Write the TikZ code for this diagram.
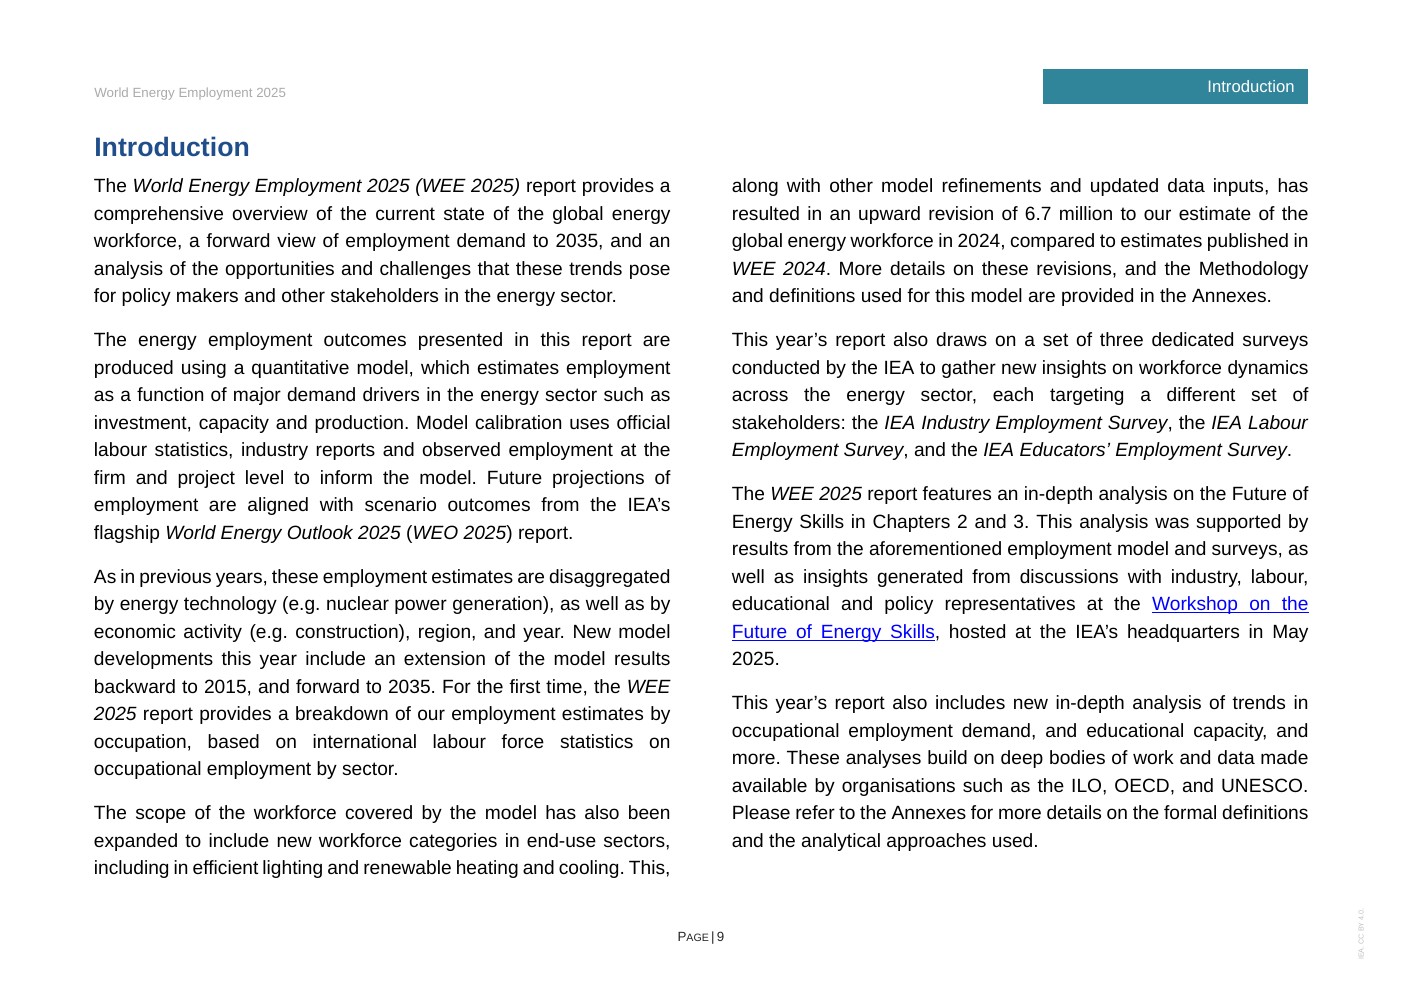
\documentclass[tikz,border=0pt]{standalone}
\usepackage{fontspec}
\setmainfont{Liberation Sans}
\frenchspacing
\definecolor{banner}{RGB}{49,133,155}
\definecolor{titleblue}{RGB}{31,78,138}
\definecolor{headgrey}{RGB}{170,170,170}
\definecolor{linkblue}{RGB}{0,0,255}
\newcounter{lnum}
\newcommand\JL[3]{\stepcounter{lnum}\node[lin] (ln\arabic{lnum}) at (#1pt,-#2pt) {\makebox[346pt][s]{#3}};}
\newcommand\LL[3]{\stepcounter{lnum}\node[lin] (ln\arabic{lnum}) at (#1pt,-#2pt) {#3};}
\newcommand\ulw[1]{\setbox0\hbox{#1}\rlap{\vrule height -0.9pt depth 1.5pt width \wd0}\box0}
\newcommand\uls{\leaders\vrule height -0.9pt depth 1.5pt\hskip\fontdimen2\font plus \fontdimen3\font minus \fontdimen4\font}
\begin{document}
\begin{tikzpicture}[
  lin/.style={anchor=base west, inner sep=0pt, outer sep=0pt, font=\fontsize{11.5}{16.5}\selectfont\frenchspacing},
]
\useasboundingbox (0,0) rectangle (841.89pt,-595.28pt);
\fill[white] (0,0) rectangle (841.89pt,-595.28pt);
% header
\node[anchor=base west, inner sep=0pt, text=headgrey, font=\fontsize{8}{10}\selectfont] (head) at (56.4pt,-58.8pt) {World Energy Employment 2025};
\node[fill=banner, anchor=north west, minimum width=159pt, minimum height=21pt, inner sep=0pt] (bannerbox) at (625.9pt,-41.4pt) {};
\node[anchor=base east, inner sep=0pt, text=white, font=\fontsize{10}{12}\selectfont] (bannertext) at (777pt,-55.6pt) {Introduction};
% title
\node[anchor=base west, inner sep=0pt, text=titleblue, font=\fontsize{16}{19}\selectfont\bfseries] (title) at (56.4pt,-94.2pt) {Introduction};
% column 1
\JL{56.4}{115.8}{The \textit{World Energy Employment 2025 (WEE 2025)} report provides a}
\JL{56.4}{132.3}{comprehensive overview of the current state of the global energy}
\JL{56.4}{148.8}{workforce, a forward view of employment demand to 2035, and an}
\JL{56.4}{165.3}{analysis of the opportunities and challenges that these trends pose}
\LL{56.4}{181.8}{for policy makers and other stakeholders in the energy sector.}
\JL{56.4}{208.2}{The energy employment outcomes presented in this report are}
\JL{56.4}{224.7}{produced using a quantitative model, which estimates employment}
\JL{56.4}{241.2}{as a function of major demand drivers in the energy sector such as}
\JL{56.4}{257.7}{investment, capacity and production. Model calibration uses official}
\JL{56.4}{274.2}{labour statistics, industry reports and observed employment at the}
\JL{56.4}{290.7}{firm and project level to inform the model. Future projections of}
\JL{56.4}{307.2}{employment are aligned with scenario outcomes from the IEA’s}
\LL{56.4}{323.7}{flagship \textit{World Energy Outlook 2025} (\textit{WEO 2025}) report.}
\JL{56.4}{350.1}{As in previous years, these employment estimates are disaggregated}
\JL{56.4}{366.6}{by energy technology (e.g. nuclear power generation), as well as by}
\JL{56.4}{383.1}{economic activity (e.g. construction), region, and year. New model}
\JL{56.4}{399.6}{developments this year include an extension of the model results}
\JL{56.4}{416.1}{backward to 2015, and forward to 2035. For the first time, the \textit{WEE}}
\JL{56.4}{432.6}{\textit{2025} report provides a breakdown of our employment estimates by}
\JL{56.4}{449.1}{occupation, based on international labour force statistics on}
\LL{56.4}{465.6}{occupational employment by sector.}
\JL{56.4}{492.0}{The scope of the workforce covered by the model has also been}
\JL{56.4}{508.5}{expanded to include new workforce categories in end-use sectors,}
\JL{56.4}{525.0}{including in efficient lighting and renewable heating and cooling. This,}
% column 2
\JL{439.2}{115.8}{along with other model refinements and updated data inputs, has}
\JL{439.2}{132.3}{resulted in an upward revision of 6.7 million to our estimate of the}
\JL{439.2}{148.8}{global energy workforce in 2024, compared to estimates published in}
\JL{439.2}{165.3}{\textit{WEE 2024}. More details on these revisions, and the Methodology}
\LL{439.2}{181.8}{and definitions used for this model are provided in the Annexes.}
\JL{439.2}{208.2}{This year’s report also draws on a set of three dedicated surveys}
\JL{439.2}{224.7}{conducted by the IEA to gather new insights on workforce dynamics}
\JL{439.2}{241.2}{across the energy sector, each targeting a different set of}
\JL{439.2}{257.7}{stakeholders: the \textit{IEA Industry Employment Survey}, the \textit{IEA Labour}}
\LL{439.2}{274.2}{\textit{Employment Survey}, and the \textit{IEA Educators’ Employment Survey}.}
\JL{439.2}{300.6}{The \textit{WEE 2025} report features an in-depth analysis on the Future of}
\JL{439.2}{317.1}{Energy Skills in Chapters 2 and 3. This analysis was supported by}
\JL{439.2}{333.6}{results from the aforementioned employment model and surveys, as}
\JL{439.2}{350.1}{well as insights generated from discussions with industry, labour,}
\JL{439.2}{366.6}{educational and policy representatives at the {\color{linkblue}\ulw{Workshop}\uls\ulw{on}\uls\ulw{the}}}
\JL{439.2}{383.1}{{\color{linkblue}\ulw{Future}\uls\ulw{of}\uls\ulw{Energy}\uls\ulw{Skills}}, hosted at the IEA’s headquarters in May}
\LL{439.2}{399.6}{2025.}
\JL{439.2}{426.0}{This year’s report also includes new in-depth analysis of trends in}
\JL{439.2}{442.5}{occupational employment demand, and educational capacity, and}
\JL{439.2}{459.0}{more. These analyses build on deep bodies of work and data made}
\JL{439.2}{475.5}{available by organisations such as the ILO, OECD, and UNESCO.}
\JL{439.2}{492.0}{Please refer to the Annexes for more details on the formal definitions}
\LL{439.2}{508.5}{and the analytical approaches used.}
% footer
\node[anchor=base, inner sep=0pt, text=black!85, font=\fontsize{8}{10}\selectfont] (footer) at (420.6pt,-565.1pt) {P{\fontsize{6.4}{8}\selectfont AGE}\,|\,9};
\node[rotate=90, inner sep=0pt, text=black!25, font=\fontsize{4.3}{5}\selectfont] (lic) at (816.7pt,-560.5pt) {IEA. CC BY 4.0.};
\end{tikzpicture}
\end{document}
